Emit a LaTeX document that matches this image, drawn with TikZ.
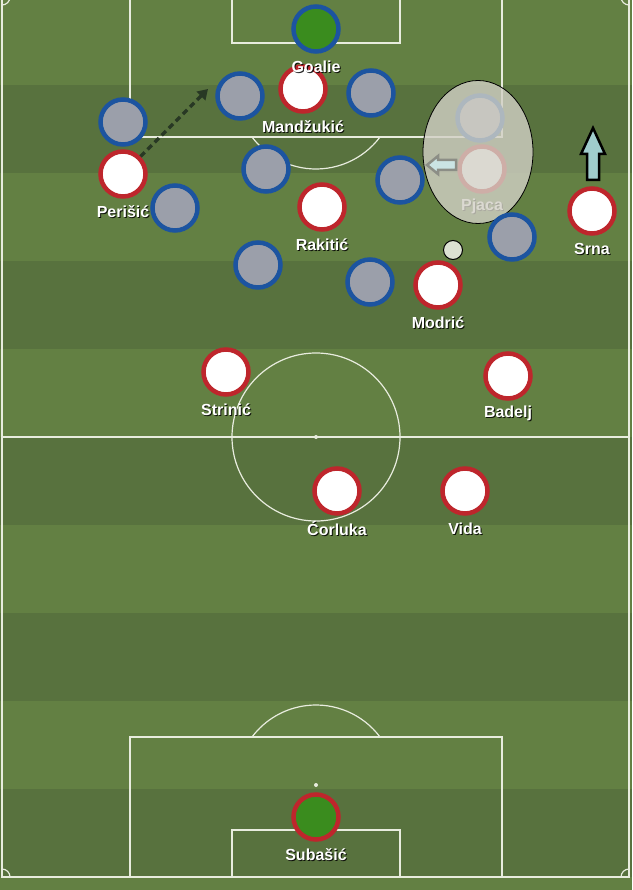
\documentclass[tikz,border=0pt]{standalone}
\usepackage{fontspec}
\setmainfont{Liberation Sans}
\usetikzlibrary{shapes.geometric,arrows.meta,shadows}
\definecolor{cespedclaro}{RGB}{99,128,67}
\definecolor{cespedoscuro}{RGB}{88,114,62}
\definecolor{lineablanca}{RGB}{232,236,222}
\definecolor{rojocro}{RGB}{190,38,44}
\definecolor{azulrival}{RGB}{28,84,160}
\definecolor{grisrival}{RGB}{155,159,170}
\definecolor{verdeportero}{RGB}{58,140,30}
\definecolor{flechaceleste}{RGB}{160,205,205}
\definecolor{flechagris}{RGB}{140,142,134}
\definecolor{zonagris}{RGB}{210,208,198}
\definecolor{pasecolor}{RGB}{40,56,36}
\definecolor{balongris}{RGB}{220,226,210}

\tikzset{
  linea/.style={lineablanca, line width=1.2pt},
  jugador/.style={circle, minimum size=45pt, inner sep=0pt, line width=4.5pt,
    drop shadow={shadow xshift=1pt, shadow yshift=-1pt, opacity=0.35}},
  rojo/.style={jugador, draw=rojocro, fill=white},
  azul/.style={jugador, draw=azulrival, fill=grisrival},
  etiqueta/.style={text=white, font=\fontsize{16}{16}\selectfont\bfseries, inner sep=0pt},
  sombra/.style={etiqueta, text=black, text opacity=0.85},
  pase/.style={pasecolor, line width=3.5pt, dash pattern=on 6pt off 4pt,
    -{Triangle[length=10pt,width=12pt]}},
  bloque/.style={line width=2.5pt, line join=miter},
}

\begin{document}
\begin{tikzpicture}[x=1pt,y=-1pt]
  \useasboundingbox (0,0) rectangle (632,890);

  % Cesped
  \fill[cespedclaro] (0,0) rectangle (632,890);
  \foreach \y in {85,261,437,613,789} {
    \fill[cespedoscuro] (0,\y) rectangle (632,\y+88);
  }

  % Lineas del campo
  \draw[linea] (2,-3) rectangle (629,877);
  \draw[linea] (2,437) -- (629,437);
  \draw[linea] (316,437) circle[radius=84pt];
  \fill[lineablanca] (316,437) circle[radius=2pt];
  % area de arriba
  \draw[linea] (130,-3) -- (130,137) -- (502,137) -- (502,-3);
  \draw[linea] (232,-3) -- (232,43) -- (400,43) -- (400,-3);
  \draw[linea] (380,137) arc[start angle=-36.87, end angle=-143.13, radius=80pt];
  % area de abajo
  \draw[linea] (130,877) -- (130,737) -- (502,737) -- (502,877);
  \draw[linea] (232,877) -- (232,830) -- (400,830) -- (400,877);
  \draw[linea] (380,737) arc[start angle=36.87, end angle=143.13, radius=80pt];
  \fill[lineablanca] (316,785) circle[radius=2pt];
  % esquinas
  \draw[linea] (10,877) arc[start angle=0, end angle=90, radius=8pt];
  \draw[linea] (629,869) arc[start angle=90, end angle=180, radius=8pt];
  \draw[linea] (10,-3) arc[start angle=0, end angle=-90, radius=8pt];
  \draw[linea] (621,-3) arc[start angle=180, end angle=270, radius=8pt];

  % Pjaca y su marcador, detras de la zona
  \node[azul] (fantasma) at (480,118) {};
  \node[rojo] (pjaca) at (482,169) {};
  \node[sombra] at ([xshift=1pt,yshift=-38.5pt]pjaca) {Pjaca};
  \node[etiqueta] (pjaca-nombre) at ([yshift=-37.5pt]pjaca) {Pjaca};
  \node[ellipse, draw=black, line width=0.8pt, fill=zonagris, fill opacity=0.8,
    minimum width=110pt, minimum height=143pt] (zona) at (478,152) {};
  \draw[bloque, draw=flechagris, fill=flechaceleste!55!white]
    (427,165) -- (438,156) -- (438,160) -- (456,160) -- (456,170)
    -- (438,170) -- (438,174) -- cycle;

  % Rivales
  \foreach \x/\y [count=\i] in {240/96, 371/93, 123/122, 266/169, 400/180,
                                175/208, 258/265, 370/282, 512/237} {
    \node[azul] (rival\i) at (\x,\y) {};
  }

  % Croacia
  \foreach \n/\x/\y/\nom in {mandzukic/303/89/Mandžukić, perisic/123/174/Perišić,
      rakitic/322/207/Rakitić, modric/438/285/Modrić, srna/592/211/Srna,
      strinic/226/372/Strinić, badelj/508/376/Badelj, corluka/337/491/Ćorluka,
      vida/465/491/Vida} {
    \node[rojo] (\n) at (\x,\y) {};
    \node[sombra] at ([xshift=1pt,yshift=-38.5pt]\n) {\nom};
    \node[etiqueta] (\n-nombre) at ([yshift=-37.5pt]\n) {\nom};
  }

  % Porteros
  \node[azul, fill=verdeportero] (goalie) at (316,29) {};
  \node[sombra] at ([xshift=1pt,yshift=-38.5pt]goalie) {Goalie};
  \node[etiqueta] (goalie-nombre) at ([yshift=-37.5pt]goalie) {Goalie};
  \node[rojo, fill=verdeportero] (subasic) at (316,817) {};
  \node[sombra] at ([xshift=1pt,yshift=-38.5pt]subasic) {Subašić};
  \node[etiqueta] (subasic-nombre) at ([yshift=-37.5pt]subasic) {Subašić};

  % Balon
  \node[circle, minimum size=19pt, inner sep=0pt, fill=balongris, draw=black,
    line width=1pt] (balon) at (453,250) {};

  % Movimientos
  \draw[bloque, draw=black, fill=flechaceleste]
    (593,128) -- (605,154) -- (599,154) -- (599,180) -- (587,180)
    -- (587,154) -- (581,154) -- cycle;
  \coordinate (pase-fin) at (208,89);
  \draw[pase] (perisic.north east) -- (pase-fin);
\end{tikzpicture}
\end{document}
